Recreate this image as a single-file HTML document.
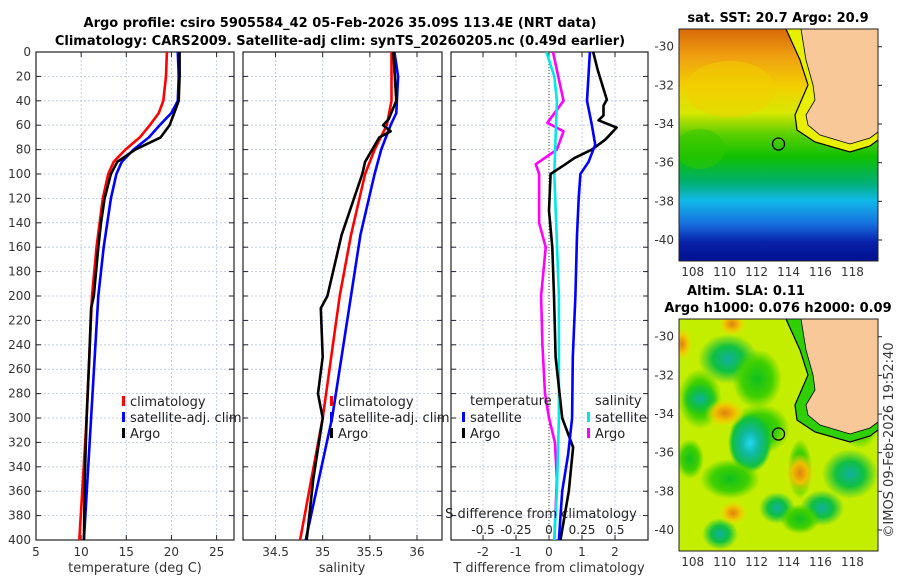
<!DOCTYPE html>
<html><head><meta charset="utf-8"><style>
body{margin:0;background:#fff;}
svg{display:block;font-family:"DejaVu Sans","Liberation Sans",sans-serif;}
</style></head><body>
<svg id="fig" width="900" height="580" viewBox="0 0 900 580" xmlns="http://www.w3.org/2000/svg">
<defs>
<linearGradient id="sstg" x1="0" y1="0" x2="0" y2="1">
<stop offset="0" stop-color="#d86a08"/><stop offset="0.12" stop-color="#f0a010"/>
<stop offset="0.25" stop-color="#f2d000"/><stop offset="0.36" stop-color="#d8e800"/>
<stop offset="0.45" stop-color="#60d000"/><stop offset="0.55" stop-color="#10c000"/>
<stop offset="0.66" stop-color="#00b070"/><stop offset="0.74" stop-color="#10b8e8"/>
<stop offset="0.84" stop-color="#1870e0"/><stop offset="0.92" stop-color="#0820a8"/>
<stop offset="1" stop-color="#001090"/></linearGradient>
<radialGradient id="bg"><stop offset="0" stop-color="#10b0a0"/><stop offset="0.5" stop-color="#10c040"/><stop offset="1" stop-color="#10c040" stop-opacity="0"/></radialGradient>
<radialGradient id="bc"><stop offset="0" stop-color="#20d8f0"/><stop offset="0.4" stop-color="#10b8a0"/><stop offset="0.8" stop-color="#10c040"/><stop offset="1" stop-color="#10c040" stop-opacity="0"/></radialGradient>
<radialGradient id="bo"><stop offset="0" stop-color="#e08010"/><stop offset="0.5" stop-color="#f0c000"/><stop offset="1" stop-color="#f0e000" stop-opacity="0"/></radialGradient>
<radialGradient id="bgr"><stop offset="0" stop-color="#10c020"/><stop offset="0.6" stop-color="#40d000"/><stop offset="1" stop-color="#40d000" stop-opacity="0"/></radialGradient>
<clipPath id="clip1"><rect x="679" y="29" width="199" height="232"/></clipPath>
<clipPath id="clip2"><rect x="679" y="319" width="199" height="232"/></clipPath>
</defs>
<text x="340" y="27" text-anchor="middle" font-size="13" font-weight="bold">Argo profile: csiro 5905584_42 05-Feb-2026 35.09S 113.4E (NRT data)</text>
<text x="340" y="45" text-anchor="middle" font-size="13" font-weight="bold">Climatology: CARS2009. Satellite-adj clim: synTS_20260205.nc (0.49d earlier)</text>
<g id="plots"></g>
<g id="maps"></g>
</svg>
<script>
const NS="http://www.w3.org/2000/svg";
const svg=document.getElementById('plots');
function mk(tag,attrs,parent){const e=document.createElementNS(NS,tag);for(const k in attrs)e.setAttribute(k,attrs[k]);(parent||svg).appendChild(e);return e;}
function txt(s,attrs,parent){const e=mk('text',attrs,parent);e.textContent=s;return e;}

// ---- data ----
const depthTicks=[0,20,40,60,80,100,120,140,160,180,200,220,240,260,280,300,320,340,360,380,400];
const tTicks=[5,10,15,20,25];
const sTicks=[34.5,35,35.5,36];
const dTTicks=[-2,-1,0,1,2];
const dSTicks=[-0.5,-0.25,0,0.25,0.5];
const dSTickLabels=["-0.5","-0.25","0","0.25","0.5"];

const tClimDepth=[0,20,40,50,60,70,80,90,100,120,160,200,250,300,350,400];
const tClim=[19.5,19.4,19.1,18.6,17.6,16.5,14.9,13.6,13.0,12.4,11.7,11.2,10.9,10.6,10.2,9.8];
const tSatDepth=[0,20,40,50,60,70,80,90,100,120,160,200,250,300,350,400];
const tSat=[20.7,20.8,20.7,20.0,18.7,17.5,15.8,14.5,13.9,13.3,12.5,11.9,11.5,11.1,10.7,10.3];
const tArgoDepth=[0,20,40,50,60,70,80,90,100,120,140,160,200,210,250,300,350,400];
const tArgo=[20.9,20.9,20.8,20.3,19.8,18.8,16.0,14.0,13.3,12.6,12.2,11.9,11.4,11.1,10.9,10.6,10.4,10.3];

const sClimDepth=[0,40,60,80,100,150,200,300,400];
const sClim=[35.73,35.73,35.68,35.55,35.45,35.3,35.18,35.0,34.76];
const sSatDepth=[0,20,50,60,80,100,150,200,300,400];
const sSat=[35.76,35.8,35.78,35.72,35.62,35.55,35.4,35.3,35.1,34.82];
const sArgoDepth=[0,40,55,60,65,70,90,100,150,200,210,250,280,300,350,400];
const sArgo=[35.75,35.78,35.7,35.64,35.72,35.6,35.45,35.42,35.2,35.05,34.98,35.0,34.95,35.0,34.9,34.83];

const dTArgoDepth=[0,15,39,44,52,56,62,72,80,87,92,100,130,160,200,250,300,324,360,400];
const dTArgo=[1.34,1.48,1.75,1.65,1.65,1.5,2.05,1.7,1.3,0.77,0.5,0.05,0.0,0.1,0.15,0.2,0.4,0.73,0.6,0.35];
const dTSatDepth=[0,40,60,76,90,100,120,150,200,250,300,330,360,400];
const dTSat=[1.24,1.15,1.3,1.4,1.2,0.95,0.9,0.85,0.8,0.72,0.7,0.58,0.4,0.3];
const dSSatDepth=[0,20,40,100,200,300,360,400];
const dSSat=[-0.02,0.04,0.06,0.04,0.075,0.075,0.06,0.04];
const dSArgoDepth=[0,40,58,65,80,92,100,140,160,200,240,280,300,320,350,400];
const dSArgo=[0.03,0.11,-0.012,0.11,0.06,-0.1,-0.075,-0.075,-0.025,-0.06,-0.05,-0.03,0.0,0.045,0.06,0.04];

// ---- axes ----
const yTop=52,yBot=540;
const yS=d=>yTop+(d/400)*(yBot-yTop);
const xT=t=>36+(t-5)*9.03;
const xS=s=>322.7+(s-35)*94.3;
const xDT=v=>549+v*33;
const xDS=v=>549+v*132;

function panel(name,x0,x1,xt,ticks,labels){
  const g=mk('g',{});
  depthTicks.forEach(d=>{const y=yS(d);
    mk('line',{x1:x0,x2:x1,y1:y,y2:y,stroke:'#b8c4e8','stroke-width':0.8,'stroke-dasharray':'2,2'},g);
    mk('line',{x1:x0,x2:x0+5,y1:y,y2:y,stroke:'#222'},g);
    mk('line',{x1:x1-5,x2:x1,y1:y,y2:y,stroke:'#222'},g);});
  ticks.forEach((t,i)=>{const x=xt(t);
    mk('line',{x1:x,x2:x,y1:yTop,y2:yBot,stroke:'#b8c4e8','stroke-width':0.8,'stroke-dasharray':'2,2'},g);
    mk('line',{x1:x,x2:x,y1:yBot-5,y2:yBot,stroke:'#222'},g);
    mk('line',{x1:x,x2:x,y1:yTop,y2:yTop+5,stroke:'#222'},g);
    if(labels)txt(labels[i],{x:x,y:556,'text-anchor':'middle','font-size':12,fill:'#333'},g);});
  mk('rect',{x:x0,y:yTop,width:x1-x0,height:yBot-yTop,fill:'none',stroke:'#222','stroke-width':1.2},g);
  return g;
}
function line(name,depths,vals,xf,color,w){
  const pts=depths.map((d,i)=>xf(vals[i]).toFixed(1)+','+yS(d).toFixed(1)).join(' ');
  const p=mk('polyline',{points:pts,fill:'none',stroke:color,'stroke-width':w||2.6,'stroke-linejoin':'round'});
  
  
  return p;
}
const dl=mk('g',{});
depthTicks.forEach(d=>txt(String(d),{x:31,y:yS(d)+4,'text-anchor':'end','font-size':12,fill:'#333'},dl));

panel('temperature-panel',36,234,xT,tTicks,tTicks.map(String));
txt('temperature (deg C)',{x:135,y:572,'text-anchor':'middle','font-size':13,fill:'#333',});
line('temp-climatology-line',tClimDepth,tClim,xT,'#ff0000');
line('temp-satellite-line',tSatDepth,tSat,xT,'#0000ff');
line('temp-argo-line',tArgoDepth,tArgo,xT,'#000000');

panel('salinity-panel',243,442,xS,sTicks,sTicks.map(String));
txt('salinity',{x:342,y:572,'text-anchor':'middle','font-size':13,fill:'#333',});
line('sal-climatology-line',sClimDepth,sClim,xS,'#ff0000');
line('sal-satellite-line',sSatDepth,sSat,xS,'#0000ff');
line('sal-argo-line',sArgoDepth,sArgo,xS,'#000000');

panel('difference-panel',451,648,xDT,dTTicks,dTTicks.map(String));
txt('T difference from climatology',{x:549,y:572,'text-anchor':'middle','font-size':13,fill:'#333',});
mk('line',{x1:549,x2:549,y1:yTop,y2:yBot,stroke:'#555530','stroke-width':1,'stroke-dasharray':'1,2',});
line('s-diff-argo-line',dSArgoDepth,dSArgo,xDS,'#ff00ff');
line('s-diff-satellite-line',dSSatDepth,dSSat,xDS,'#00e8e8');
line('t-diff-argo-line',dTArgoDepth,dTArgo,xDT,'#000000');
line('t-diff-satellite-line',dTSatDepth,dTSat,xDT,'#0000ff');
txt('S difference from climatology',{x:541,y:518,'text-anchor':'middle','font-size':13,fill:'#222',});
dSTicks.forEach((v,i)=>txt(dSTickLabels[i],{x:xDS(v),y:534,'text-anchor':'middle','font-size':12,fill:'#222'}));

function legend(name,x,y,items,title){
  const g=mk('g',{});
  let yy=y;
  if(title){txt(title,{x:x,y:yy,'font-size':13,fill:'#222'},g);yy+=17;}
  items.forEach(([c,l])=>{mk('rect',{x:x-8,y:yy-10,width:3,height:10,fill:c},g);
    txt(l,{x:x,y:yy,'font-size':13,fill:'#222'},g);yy+=16;});
}
legend('temp-legend',130,406,[['#ff0000','climatology'],['#0000ff','satellite-adj. clim'],['#000','Argo']]);
legend('sal-legend',338,406,[['#ff0000','climatology'],['#0000ff','satellite-adj. clim'],['#000','Argo']]);
legend('tdiff-legend',470,405,[['#0000ff','satellite'],['#000','Argo']],'temperature');
legend('sdiff-legend',595,405,[['#00e8e8','satellite'],['#ff00ff','Argo']],'salinity');

// ---- maps ----
const maps=document.getElementById('maps');
const lonTicks=[108,110,112,114,116,118];
const latTicks=[-30,-32,-34,-36,-38,-40];
const xL=l=>692.7+(l-108)*15.97;
function drawMap(name,top,kind,clip){
  const g=mk('g',{},maps);
  const c=mk('g',{'clip-path':'url(#'+clip+')'},g);
  const yL=l=>top+17.7+(-30-l)*19.33;
  if(kind==='sst'){
    mk('rect',{x:679,y:top,width:199,height:232,fill:'url(#sstg)'},c);
    mk('ellipse',{cx:730,cy:top+60,rx:45,ry:28,fill:'#f2d000',opacity:0.5},c);
    mk('ellipse',{cx:700,cy:top+120,rx:25,ry:20,fill:'#30c800',opacity:0.5},c);
  } else {
    mk('rect',{x:679,y:top,width:199,height:232,fill:'#c4ee00'},c);
    // green/teal blobs (absolute x, y offset from map top)
    [[728,40,30,25,'bg'],[700,80,22,30,'bgr'],[757,60,25,30,'bgr'],[760,110,30,25,'bgr'],
     [700,80,18,16,'bg'],[750,124,22,30,'bc'],[730,160,30,20,'bgr'],[777,189,18,16,'bg'],
     [822,189,22,18,'bg'],[850,155,28,25,'bg'],[720,215,18,16,'bg'],[800,200,20,15,'bgr'],
     [690,140,14,20,'bgr'],[860,100,20,30,'bgr'],[800,150,12,30,'bgr']].forEach(b=>
      mk('ellipse',{cx:b[0],cy:top+b[1],rx:b[2],ry:b[3],fill:'url(#'+b[4]+')'},c));
    [[732,5,14,12],[682,25,10,16],[725,94,20,14],[800,154,15,20],[733,194,14,12]].forEach(b=>
      mk('ellipse',{cx:b[0],cy:top+b[1],rx:b[2],ry:b[3],fill:'url(#bo)'},c));
  }
  const o=top-29;
  const band=kind==='sst'?'#e8f000':'#30d000';
  mk('polygon',{points:`786,${29+o} 800,${60+o} 808,${85+o} 795,${115+o} 797,${130+o} 815,${142+o} 850,${152+o} 870,${146+o} 878,${140+o} 878,${29+o}`,fill:band},c);
  mk('polyline',{points:`786,${29+o} 800,${60+o} 808,${85+o} 795,${115+o} 797,${130+o} 815,${142+o} 850,${152+o} 870,${146+o} 878,${140+o}`,fill:'none',stroke:'#000','stroke-width':1.2},c);
  mk('polygon',{points:`801,${29+o} 806,${60+o} 813,${85+o} 815,${100+o} 806,${115+o} 808,${125+o} 820,${135+o} 850,${144+o} 870,${138+o} 878,${132+o} 878,${29+o}`,fill:'#f8c898',stroke:'#000','stroke-width':0.8},c);
  mk('circle',{cx:778.5,cy:top+115,r:6,fill:'none',stroke:'#000','stroke-width':1.3},c);
  mk('rect',{x:679,y:top,width:199,height:232,fill:'none',stroke:'#222'},g);
  latTicks.forEach(l=>{const y=yL(l);
    mk('line',{x1:878,x2:882,y1:y,y2:y,stroke:'#222'},g);
    txt(String(l),{x:674,y:y+4,'text-anchor':'end','font-size':12,fill:'#333'},g);});
  lonTicks.forEach(l=>txt(String(l),{x:xL(l),y:top+247,'text-anchor':'middle','font-size':12,fill:'#333'},g));
}
drawMap('sst-map',29,'sst','clip1');
drawMap('sla-map',319,'sla','clip2');
txt('sat. SST: 20.7 Argo: 20.9',{x:778,y:22,'text-anchor':'middle','font-size':13,'font-weight':'bold',},maps);
txt('Altim. SLA: 0.11',{x:746,y:295,'text-anchor':'middle','font-size':13,'font-weight':'bold',},maps);
txt('Argo h1000: 0.076 h2000: 0.09',{x:778,y:312,'text-anchor':'middle','font-size':13,'font-weight':'bold',},maps);
txt('©IMOS 09-Feb-2026 19:52:40',{x:0,y:0,'font-size':13,fill:'#333','text-anchor':'middle',transform:'translate(893,440) rotate(-90)',},maps);
</script>
</body></html>
